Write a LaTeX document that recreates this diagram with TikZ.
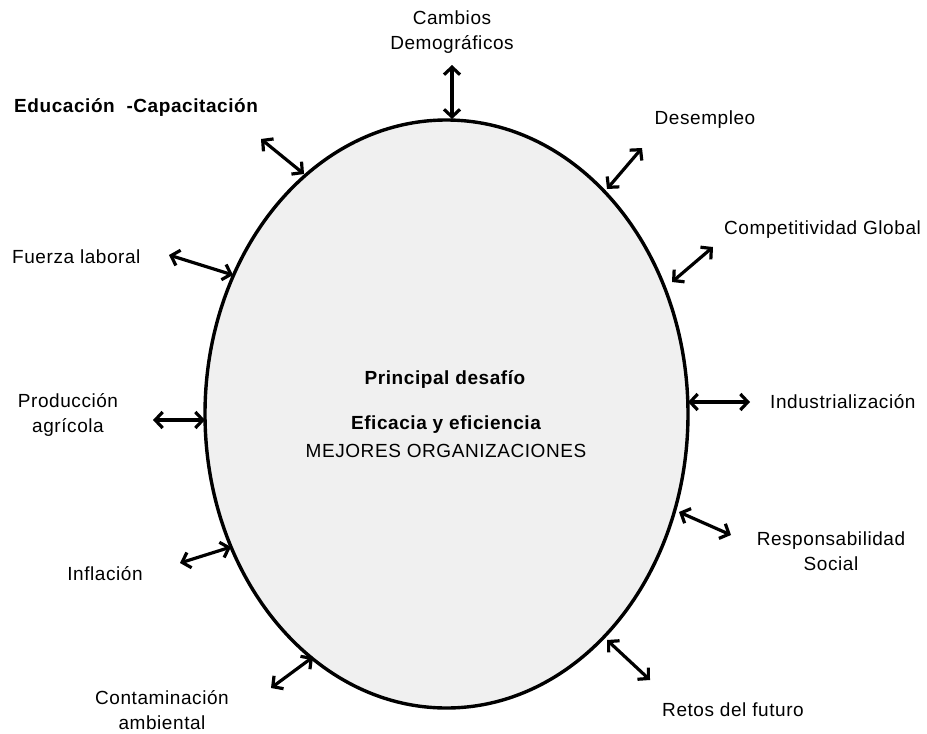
\documentclass[tikz,border=0pt]{standalone}
\usepackage{fontspec}
\setmainfont[LetterSpace=3]{Liberation Sans}
\usetikzlibrary{arrows.meta,shapes.geometric}
\definecolor{ellfill}{RGB}{240,240,240}
\begin{document}
\begin{tikzpicture}[x=1pt,y=-1pt,
  lbl/.style={font=\fontsize{19}{25}\selectfont, align=center, inner sep=0pt},
  lblb/.style={font=\fontsize{19}{25}\selectfont\bfseries, align=center, inner sep=0pt},
  conn/.style={line width=3.2pt, {Straight Barb[length=7.5pt,width=16pt]}-{Straight Barb[length=7.5pt,width=16pt]}}]
\useasboundingbox (0,0) rectangle (927,734);
\node[ellipse, draw, line width=3.4pt, fill=ellfill, minimum width=483pt, minimum height=588pt, inner sep=0pt] (E) at (446.5,414) {};
% center texts
\node[lblb] (t1) at (445,379) {Principal desafío};
\node[lblb] (t2) at (446,425) {Eficacia y eficiencia};
\node[lbl] (t3) at (446,451) {MEJORES ORGANIZACIONES};
% labels
\node[lbl] (cam) at (452,32) {Cambios\\Demográficos};
\node[lblb, anchor=west] (edu) at (14,108) {Educación \ -Capacitación};
\node[lbl] (des) at (705,120) {Desempleo};
\node[lbl, anchor=west] (comp) at (724,230) {Competitividad Global};
\node[lbl, anchor=west] (fue) at (12,257) {Fuerza laboral};
\node[lbl] (pro) at (68,415) {Producción\\agrícola};
\node[lbl, anchor=west] (ind) at (770,402) {Industrialización};
\node[lbl] (res) at (831,551) {Responsabilidad\\Social};
\node[lbl] (inf) at (105,574) {Inflación};
\node[lbl] (con) at (162,710) {Contaminación\\ambiental};
\node[lbl] (ret) at (733,710) {Retos del futuro};
% arrow end coordinates
\coordinate (a1) at (452,65); \coordinate (b1) at (452,119);
\coordinate (a2) at (261,139); \coordinate (b2) at (304,174);
\coordinate (a3) at (642,148); \coordinate (b3) at (607,189);
\coordinate (a4) at (713,247); \coordinate (b4) at (672,282);
\coordinate (a5) at (169,255); \coordinate (b5) at (233,275);
\coordinate (a6) at (153,420); \coordinate (b6) at (205,420);
\coordinate (a7) at (180,563); \coordinate (b7) at (231,547);
\coordinate (a8) at (271,688); \coordinate (b8) at (313,657);
\coordinate (a9) at (750,402); \coordinate (b9) at (688,402);
\coordinate (a10) at (731,535); \coordinate (b10) at (679,512);
\coordinate (a11) at (650,680); \coordinate (b11) at (607,640);
\foreach \i in {1,...,11} { \draw[conn] (a\i) -- (b\i); }
\end{tikzpicture}
\end{document}
